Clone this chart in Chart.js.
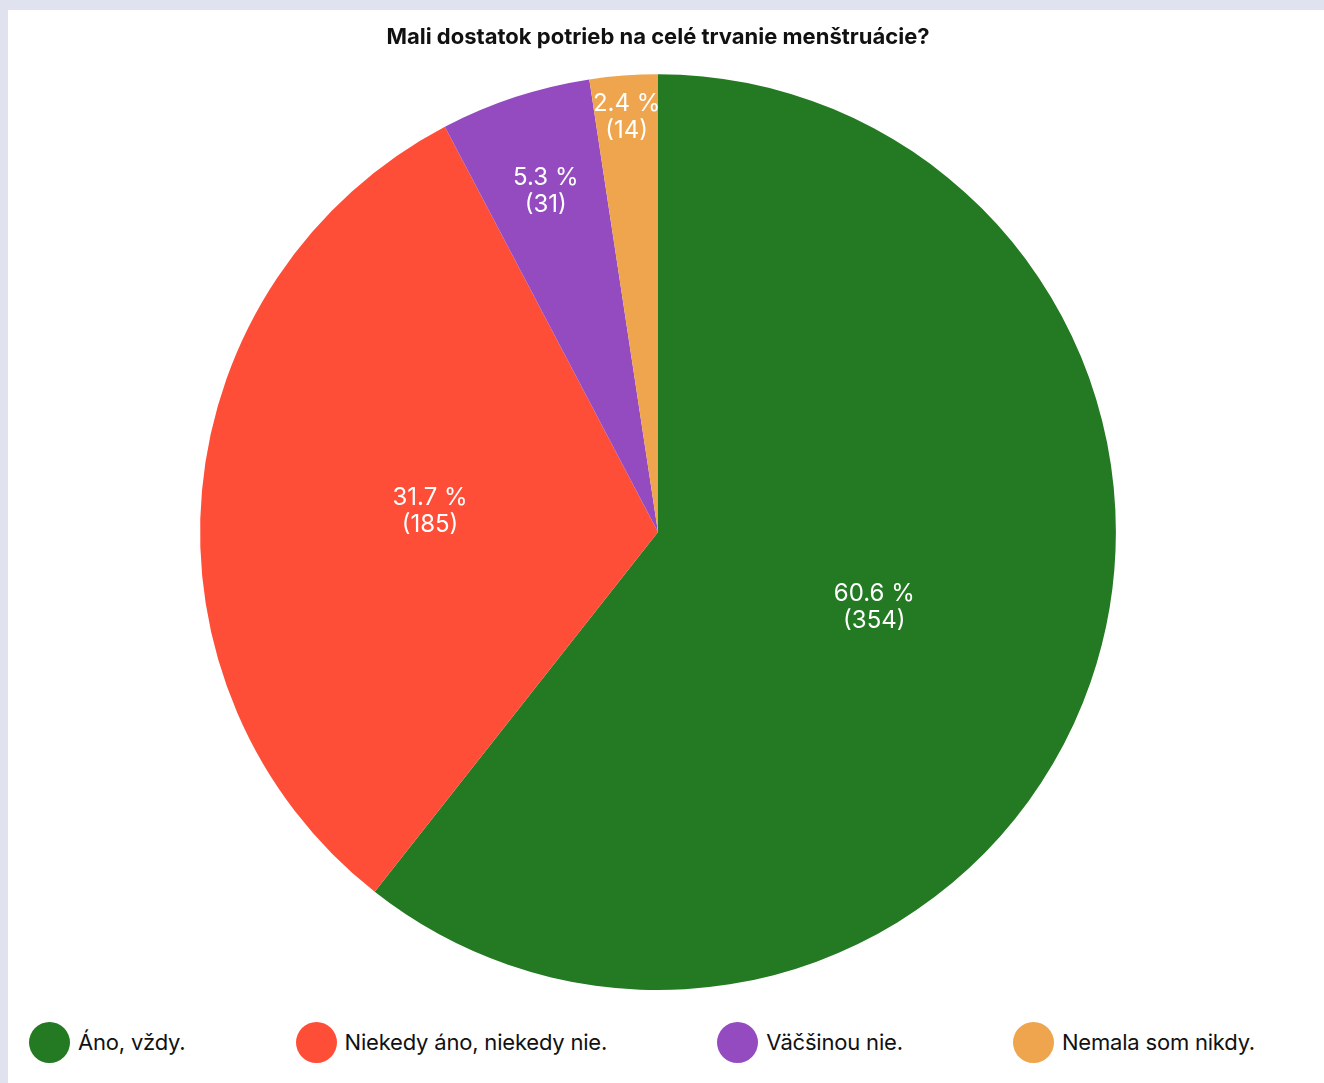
<!DOCTYPE html>
<html>
<head>
<meta charset="utf-8">
<script src="https://cdn.jsdelivr.net/npm/chart.js@4"></script>
<style>
  html, body { margin: 0; padding: 0; background: #e1e2f0; width: 1324px; height: 1083px; overflow: hidden; font-family: Inter, 'Noto Sans', sans-serif; }
  #card { position: absolute; left: 8px; top: 10px; width: 1316px; height: 1073px; background: #fff; }
  #chartBox { position: absolute; left: 0; top: 0; width: 1316px; height: 990px; }
  #legend { position: absolute; left: 21px; width: 1226px; top: 1011px; height: 42px; display: flex; justify-content: space-between; align-items: center; }
  .item { display: flex; align-items: center; font-size: 22px; letter-spacing: -0.2px; color: #111; white-space: nowrap; }
  .dot { width: 41px; height: 41px; border-radius: 50%; margin-right: 8px; }
</style>
</head>
<body>
<div id="card">
  <div id="chartBox"><canvas id="pieChart"></canvas></div>
  <div id="legend"></div>
</div>
<script>
const titleText = 'Mali dostatok potrieb na celé trvanie menštruácie?';
const categories = ['Áno, vždy.', 'Niekedy áno, niekedy nie.', 'Väčšinou nie.', 'Nemala som nikdy.'];
const counts = [354, 185, 31, 14];
const colors = ['#237a22', '#ff4e37', '#944bbf', '#eea54e'];

const total = counts.reduce((a, b) => a + b, 0);

// popisky priamo v kruhových výsekoch
const sliceLabels = {
    id: 'sliceLabels',
    afterDatasetsDraw(chart) {
        const ctx = chart.ctx;
        const meta = chart.getDatasetMeta(0);
        ctx.save();
        ctx.font = '24px Inter, "Noto Sans", sans-serif';
        ctx.fillStyle = '#ffffff';
        ctx.textAlign = 'center';
        ctx.textBaseline = 'middle';
        meta.data.forEach((arc, i) => {
            const p = arc.getProps(['x', 'y', 'startAngle', 'endAngle', 'outerRadius'], true);
            const mid = (p.startAngle + p.endAngle) / 2;
            const half = (p.endAngle - p.startAngle) / 2;
            const line1 = (counts[i] / total * 100).toFixed(1) + ' %';
            const line2 = '(' + counts[i] + ')';
            const w = ctx.measureText(line1).width;
            let r = (w / 2 + 27) / Math.sin(Math.min(half, Math.PI / 2));
            r = Math.max(0.5 * p.outerRadius, Math.min(0.91 * p.outerRadius, r));
            const x = p.x + Math.cos(mid) * r;
            const y = p.y + Math.sin(mid) * r;
            ctx.fillText(line1, x, y - 13);
            ctx.fillText(line2, x, y + 14);
        });
        ctx.restore();
    }
};

const chart = new Chart(document.getElementById('pieChart'), {
    type: 'pie',
    data: {
        labels: categories,
        datasets: [{
            data: counts,
            backgroundColor: colors,
            borderWidth: 0
        }]
    },
    options: {
        responsive: true,
        maintainAspectRatio: false,
        animation: false,
        layout: { padding: { left: 0, right: 16, bottom: 10 } },
        plugins: {
            legend: { display: false },
            tooltip: { enabled: false },
            title: {
                display: true,
                text: titleText,
                color: '#111111',
                font: { family: 'Inter, "Noto Sans", sans-serif', size: 22, weight: 'bold', lineHeight: 1.1 },
                padding: { top: 15, bottom: 25 }
            }
        }
    },
    plugins: [sliceLabels]
});

// legenda pod grafom
const legendEl = document.getElementById('legend');
categories.forEach((c, i) => {
    const item = document.createElement('div');
    item.className = 'item';
    const dot = document.createElement('span');
    dot.className = 'dot';
    dot.style.background = colors[i];
    item.appendChild(dot);
    item.appendChild(document.createTextNode(c));
    legendEl.appendChild(item);
});
</script>
</body>
</html>
